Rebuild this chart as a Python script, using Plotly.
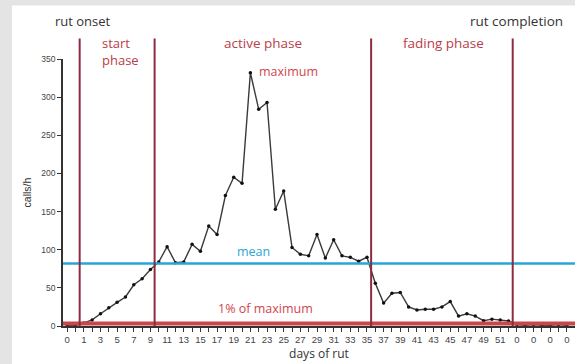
import plotly.graph_objects as go

# ---- data ----
day_labels = ["0", "0"] + [str(d) for d in range(1, 53)] + ["0"] * 7
calls_per_hour = [1, 1, 4, 8, 16, 24, 31, 38, 54, 62, 74,
                  84, 104, 83, 84, 107, 98, 131, 120, 171, 195, 187,
                  332, 284, 293, 153, 177, 103, 94, 92, 120, 89, 113,
                  92, 90, 85, 90, 56, 30, 43, 44, 25, 21, 22,
                  22, 25, 32, 13, 16, 13, 7, 9, 8, 6.5,
                  2, 1, 2, 1, 1, 2, 1]
mean_calls = 82
one_percent_of_max = 3.32
phase_boundaries = [1.5, 10.5, 36.5, 53.5]   # between category indices
y_ticks = [0, 50, 100, 150, 200, 250, 300, 350]

x_idx = list(range(len(day_labels)))
tick_text = [lab if i % 2 == 0 else "" for i, lab in enumerate(day_labels)]

W, H = 575, 364
ML, MR, MT, MB = 63, 0, 58.5, 38
pw = W - ML - MR
ph = H - MT - MB

def px_to_paper_x(px):
    return (px - ML) / pw

def py_to_paper_y(py):
    return (H - MB - py) / ph

DARK = "#333333"
MAROON = "#8c2c40"
RED_TXT = "#b8404a"
RED_LINE = "#c9474c"
BLUE = "#2aa6d2"

fig = go.Figure()
fig.add_trace(go.Scatter(
    x=x_idx, y=calls_per_hour, mode="lines+markers",
    line=dict(color="#3a3a3a", width=1.4),
    marker=dict(color="#111111", size=3.5),
    showlegend=False, hoverinfo="skip"))

shapes = []
# gray frame behind white panel
shapes.append(dict(type="rect", xref="paper", yref="paper",
                   x0=px_to_paper_x(12), x1=px_to_paper_x(W + 5),
                   y0=py_to_paper_y(H + 5), y1=py_to_paper_y(5),
                   fillcolor="white", line=dict(width=0), layer="below"))
# mean line
shapes.append(dict(type="line", xref="paper", yref="y", x0=0, x1=1,
                   y0=mean_calls, y1=mean_calls,
                   line=dict(color=BLUE, width=2.5)))
# 1% of maximum line
shapes.append(dict(type="line", xref="paper", yref="y", x0=0, x1=1,
                   y0=one_percent_of_max, y1=one_percent_of_max,
                   line=dict(color=RED_LINE, width=4)))
# phase boundaries
for b in phase_boundaries:
    shapes.append(dict(type="line", xref="x", yref="paper", x0=b, x1=b,
                       y0=0, y1=py_to_paper_y(38),
                       line=dict(color=MAROON, width=2)))

TXT_FONT = "'Open Sans', Lato, sans-serif"
annotations = [
    dict(text="rut onset", x=px_to_paper_x(83), y=py_to_paper_y(20),
         font=dict(color=DARK, size=13)),
    dict(text="rut completion", x=px_to_paper_x(516), y=py_to_paper_y(20),
         font=dict(color=DARK, size=13.5)),
    dict(text="start<br>phase", x=px_to_paper_x(100), y=py_to_paper_y(51),
         xanchor="left", align="left", font=dict(color=RED_TXT, size=13)),
    dict(text="active phase", x=px_to_paper_x(262.5), y=py_to_paper_y(42),
         font=dict(color=RED_TXT, size=13.5)),
    dict(text="fading phase", x=px_to_paper_x(443), y=py_to_paper_y(42),
         font=dict(color=RED_TXT, size=13.5)),
    dict(text="maximum", x=px_to_paper_x(288), y=py_to_paper_y(71),
         font=dict(color="#d0454c", size=12.5)),
    dict(text="mean", x=px_to_paper_x(253), y=py_to_paper_y(251),
         font=dict(color=BLUE, size=12.5)),
    dict(text="1% of maximum", x=px_to_paper_x(265), y=py_to_paper_y(308),
         font=dict(color="#d0454c", size=12.5)),
]
for a in annotations:
    a.update(xref="paper", yref="paper", showarrow=False)
    a.setdefault("xanchor", "center")
    a["yanchor"] = "middle"
    a["font"]["family"] = TXT_FONT

fig.update_layout(
    width=W, height=H,
    margin=dict(l=ML, r=MR, t=MT, b=MB, pad=0, autoexpand=False),
    paper_bgcolor="#e4e4e4",
    plot_bgcolor="rgba(0,0,0,0)",
    shapes=shapes,
    annotations=annotations,
    showlegend=False,
    xaxis=dict(
        automargin=False,
        range=[-0.5, len(day_labels) - 0.02],
        tickmode="array", tickvals=x_idx, ticktext=tick_text,
        ticks="outside", ticklen=4, tickwidth=1, tickcolor=DARK,
        showline=True, linecolor=DARK, linewidth=1.5,
        showgrid=False, zeroline=False,
        tickfont=dict(family="Arial, 'Liberation Sans', sans-serif", size=9.5, color="#444"),
        title=dict(text="days of rut", standoff=3,
                   font=dict(family=TXT_FONT, size=12, color=DARK)),
    ),
    yaxis=dict(
        automargin=False,
        range=[0, 350],
        tickmode="array", tickvals=y_ticks,
        ticks="outside", ticklen=4, tickwidth=1, tickcolor=DARK,
        showline=True, linecolor=DARK, linewidth=1.5,
        showgrid=False, zeroline=False,
        tickfont=dict(family="Arial, 'Liberation Sans', sans-serif", size=8.5, color="#444"),
        title=dict(text="calls/h", standoff=8,
                   font=dict(family="Arial, 'Liberation Sans', sans-serif", size=10.5, color=DARK)),
    ),
)

fig.write_html(
    "out.html",
    config={"displayModeBar": False},
    post_script="document.body.style.margin='0';document.body.style.overflow='hidden';",
)
